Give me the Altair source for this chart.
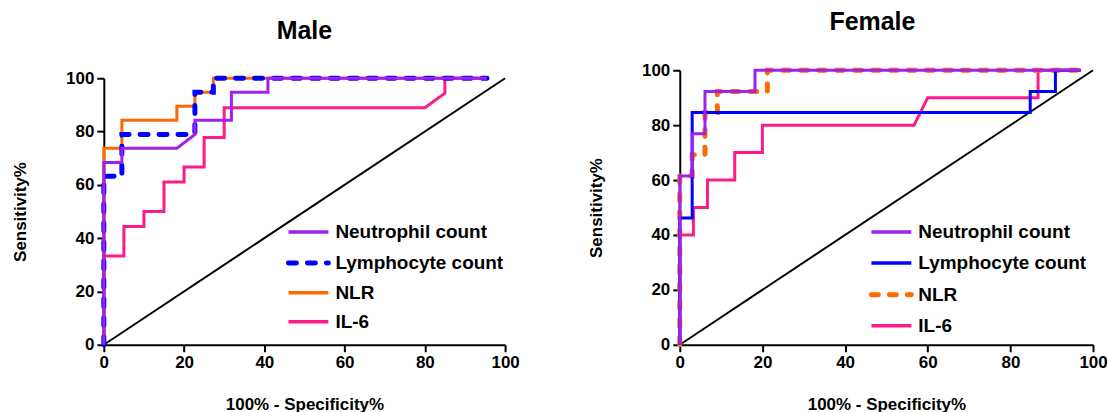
import altair as alt
import pandas as pd

FONT = "Liberation Sans"

# ---------------- data ----------------
# Male
male_neut_x = [0, 0, 4.5, 4.5, 18.2, 22.7, 22.7, 31.8, 31.8, 40.9, 40.9, 95.5]
male_neut_y = [0, 68.4, 68.4, 73.7, 73.7, 78.9, 84.2, 84.2, 94.7, 94.7, 100, 100]
male_lymph_x = [0, 0, 4.5, 4.5, 22.7, 22.7, 27.3, 27.3, 95.5]
male_lymph_y = [0, 63.2, 63.2, 78.9, 78.9, 94.7, 94.7, 100, 100]
male_nlr_x = [0, 0, 4.5, 4.5, 18.2, 18.2, 22.7, 22.7, 27.3, 27.3, 95.5]
male_nlr_y = [0, 73.7, 73.7, 84.2, 84.2, 89.5, 89.5, 94.7, 94.7, 100, 100]
male_il6_x = [0, 0, 5, 5, 10, 10, 15, 15, 20, 20, 25, 25, 30, 30, 80, 85, 85, 95.5]
male_il6_y = [0, 33.3, 33.3, 44.4, 44.4, 50, 50, 61.1, 61.1, 66.7, 66.7, 77.8, 77.8, 88.9, 88.9, 94.4, 100, 100]

# Female
female_neut_x = [0, 0, 3.0, 3.0, 6.1, 6.1, 18.2, 18.2, 97]
female_neut_y = [0, 61.5, 61.5, 76.9, 76.9, 92.3, 92.3, 100, 100]
female_lymph_x = [0, 0, 3.0, 3.0, 84.8, 84.8, 90.9, 90.9, 97]
female_lymph_y = [0, 46.2, 46.2, 84.6, 84.6, 92.3, 92.3, 100, 100]
female_nlr_x = [0, 0, 3.0, 3.0, 6.1, 6.1, 9.1, 9.1, 21.2, 21.2, 97]
female_nlr_y = [0, 61.5, 61.5, 69.2, 69.2, 84.6, 84.6, 92.3, 92.3, 100, 100]
female_il6_x = [0, 0, 3.3, 3.3, 6.7, 6.7, 13.3, 13.3, 20, 20, 56.7, 60, 86.7, 86.7, 97]
female_il6_y = [0, 40, 40, 50, 50, 60, 60, 70, 70, 80, 80, 90, 90, 100, 100]

diag_x = [0, 100]
diag_y = [0, 100]

legend_labels = ["Neutrophil count", "Lymphocyte count", "NLR", "IL-6"]
tick_values = [0, 20, 40, 60, 80, 100]

PURPLE = "#A020F0"
BLUE = "#0000FF"
ORANGE = "#FF6A00"
PINK = "#FF1A8C"

SOLID = [1, 0]
MALE_DASH = [8, 11]
FEMALE_DASH = [7, 11]


def sdf(xs, ys):
    return pd.DataFrame({"x": xs, "y": ys, "i": list(range(len(xs)))})


def axis_common():
    return dict(
        domainColor="black", domainWidth=2, tickColor="black", tickWidth=2,
        tickSize=7, labelFont=FONT, labelFontSize=17, labelFontWeight="bold",
        labelColor="black", titleFont=FONT, titleFontSize=17,
        titleFontWeight="bold", titleColor="black", grid=False,
        labelPadding=3, values=tick_values, labelFlush=False,
    )


def enc_x():
    return alt.X("x:Q", scale=alt.Scale(domain=[0, 100], nice=False, zero=False),
                 axis=alt.Axis(title="100% - Specificity%", titlePadding=26, **axis_common()))


def enc_y(h, top):
    return alt.Y("y:Q", scale=alt.Scale(domain=[0, 100], nice=False, zero=False, range=[h, top]),
                 axis=alt.Axis(title="Sensitivity%", titlePadding=36, **axis_common()))


def panel(title, title_x, title_y, series, w, h, top, leg_x, leg_ys):
    layers = []
    layers.append(
        alt.Chart(sdf(diag_x, diag_y)).mark_line(color="black", strokeWidth=2)
        .encode(x=enc_x(), y=enc_y(h, top), order="i:Q")
    )
    for xs, ys, color, dash, sw in series["draw"]:
        layers.append(
            alt.Chart(sdf(xs, ys)).mark_line(color=color, strokeDash=dash, strokeWidth=sw,
                                             strokeCap="round" if dash != SOLID else "butt",
                                             strokeJoin="miter")
            .encode(x=enc_x(), y=enc_y(h, top), order="i:Q")
        )
    # legend (manual)
    for (lab, color, dash, sw), ly in zip(series["legend"], leg_ys):
        layers.append(
            alt.Chart(pd.DataFrame({"a": [0]})).mark_rule(color=color, strokeDash=dash, strokeWidth=sw,
                                                          strokeCap="round" if dash != SOLID else "butt")
            .encode(x=alt.value(leg_x), x2=alt.value(leg_x + 40), y=alt.value(ly))
        )
        layers.append(
            alt.Chart(pd.DataFrame({"a": [0]})).mark_text(text=lab, font=FONT, fontSize=19,
                                                          fontWeight="bold", color="black",
                                                          align="left", baseline="middle")
            .encode(x=alt.value(leg_x + 47), y=alt.value(ly))
        )
    layers.append(
        alt.Chart(pd.DataFrame({"a": [0]})).mark_text(text=title, font=FONT, fontSize=25,
                                                      fontWeight="bold", color="black",
                                                      align="center", baseline="middle")
        .encode(x=alt.value(title_x), y=alt.value(title_y))
    )
    return alt.layer(*layers).properties(width=w, height=h)


male_series = {
    "draw": [
        (male_nlr_x, male_nlr_y, ORANGE, SOLID, 3),
        (male_il6_x, male_il6_y, PINK, SOLID, 3),
        (male_lymph_x, male_lymph_y, BLUE, MALE_DASH, 5),
        (male_neut_x, male_neut_y, PURPLE, SOLID, 3),
    ],
    "legend": [
        (legend_labels[0], PURPLE, SOLID, 3.5),
        (legend_labels[1], BLUE, MALE_DASH, 5),
        (legend_labels[2], ORANGE, SOLID, 3.5),
        (legend_labels[3], PINK, SOLID, 3.5),
    ],
}

female_series = {
    "draw": [
        (female_il6_x, female_il6_y, PINK, SOLID, 3),
        (female_nlr_x, female_nlr_y, ORANGE, FEMALE_DASH, 5),
        (female_lymph_x, female_lymph_y, BLUE, SOLID, 3),
        (female_neut_x, female_neut_y, PURPLE, SOLID, 3),
    ],
    "legend": [
        (legend_labels[0], PURPLE, SOLID, 3.5),
        (legend_labels[1], BLUE, SOLID, 3.5),
        (legend_labels[2], ORANGE, FEMALE_DASH, 5),
        (legend_labels[3], PINK, SOLID, 3.5),
    ],
}

# male plot is 8 px shorter, drawn in a panel of the same height as the female one
male = panel("Male", 201, -39, male_series, 402, 275, 8, 185, [162, 193, 223, 252])
female = panel("Female", 193, -48, female_series, 414, 275, 0, 192, [162, 193, 225, 256])

chart = (
    alt.hconcat(male, female, spacing=67)
    .properties(padding={"left": 11, "top": 10, "right": 0, "bottom": 0}, background="white")
    .configure_view(stroke=None)
)

chart.save("out.html", embed_options={"renderer": "svg", "actions": False})
